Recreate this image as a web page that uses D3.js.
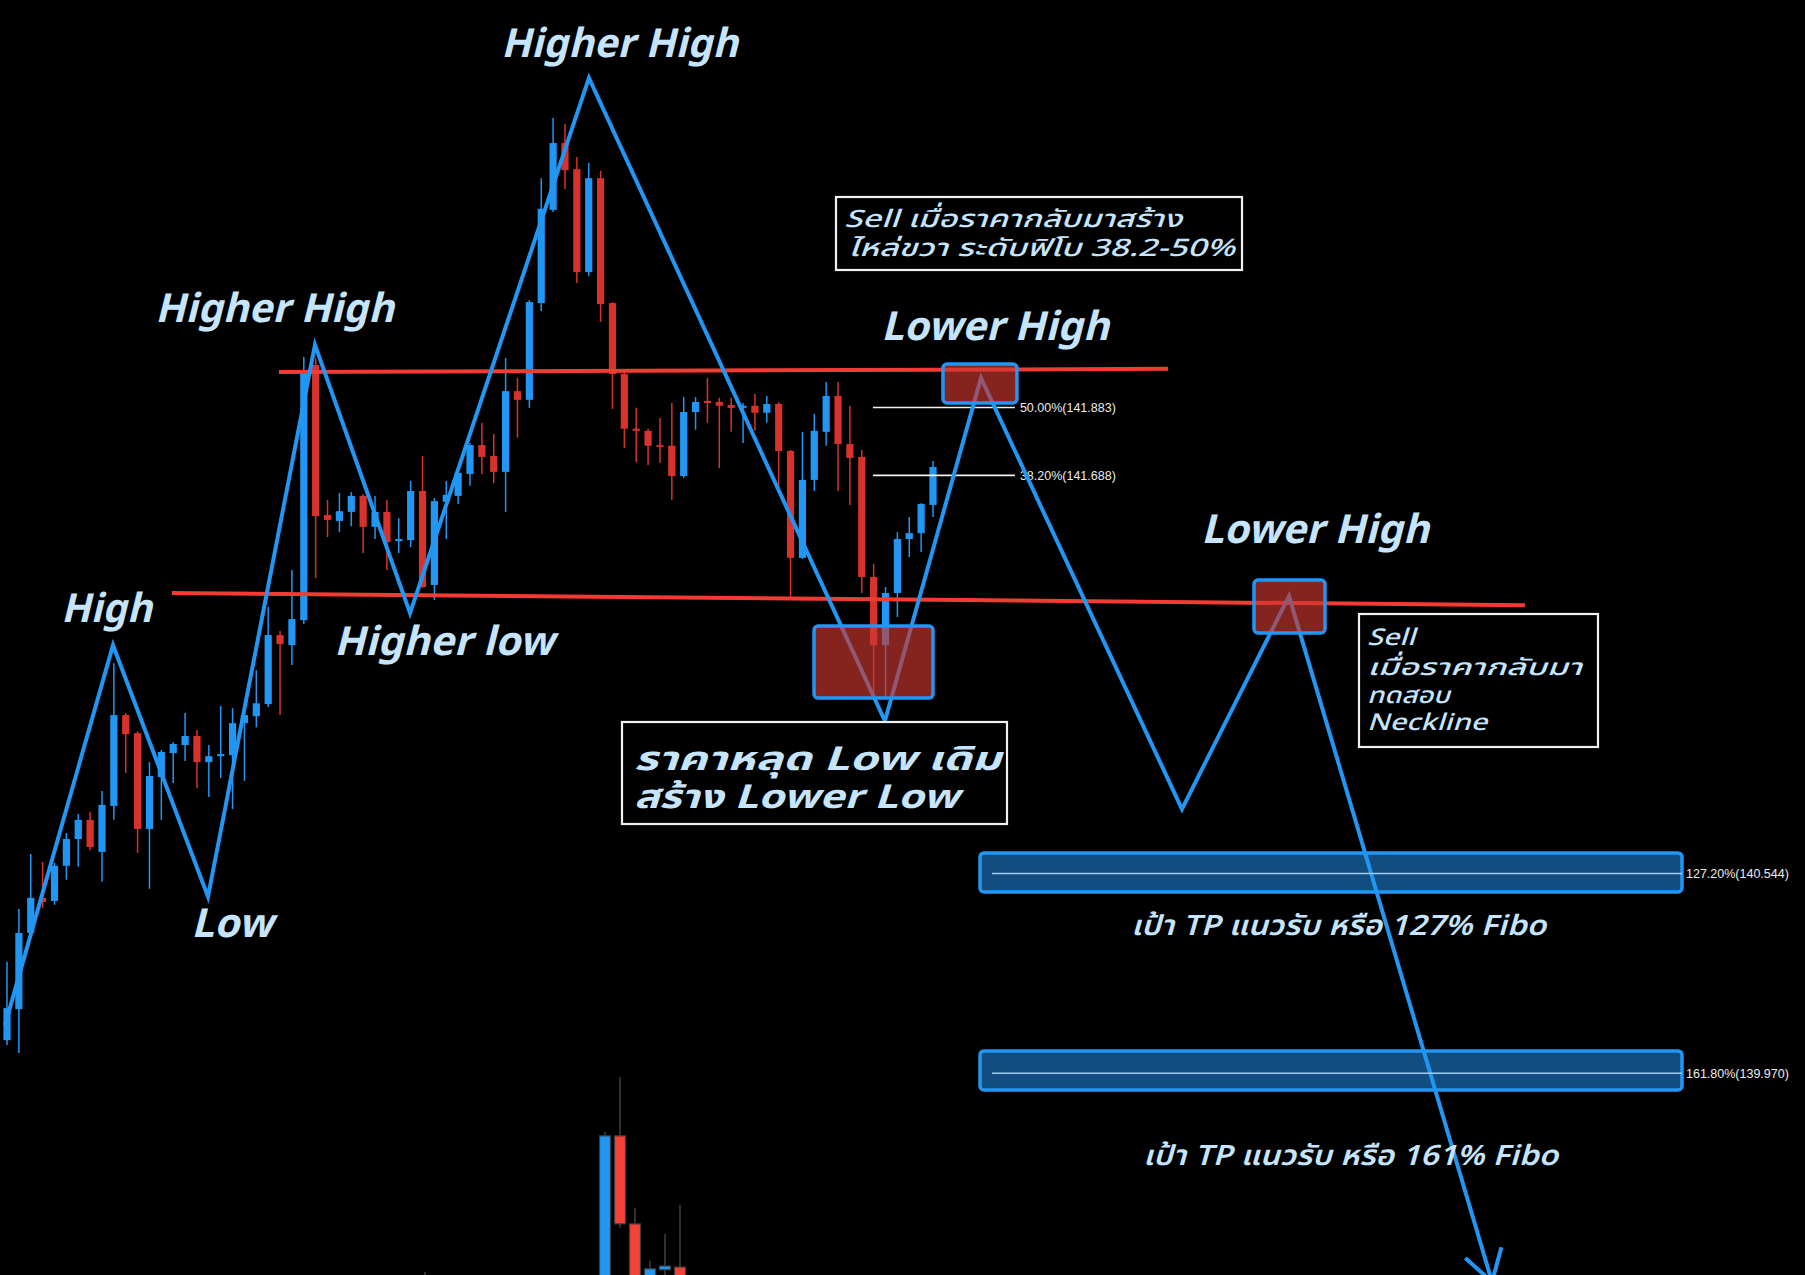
<!DOCTYPE html>
<html><head><meta charset="utf-8">
<script src="https://cdn.jsdelivr.net/npm/d3@7"></script>
<style>html,body{margin:0;padding:0;background:#000;overflow:hidden}</style>
</head><body><svg id="c" width="1805" height="1275"></svg>
<script>
// ---- DATA ----
// main candles [open, high, low, close]
const candles = [
[140.065,140.290,140.051,140.157],[140.154,140.442,140.028,140.373],[140.373,140.600,140.367,140.474],
[140.474,140.577,140.445,140.462],[140.465,140.574,140.454,140.566],[140.566,140.660,140.526,140.643],
[140.643,140.715,140.563,140.698],[140.698,140.721,140.611,140.620],[140.606,140.781,140.520,140.741],
[140.738,141.148,140.698,140.999],[140.999,141.005,140.833,140.944],[140.947,140.953,140.603,140.672],
[140.672,140.864,140.500,140.824],[140.821,140.899,140.698,140.893],[140.890,140.921,140.804,140.916],
[140.913,141.005,140.867,140.939],[140.939,140.956,140.789,140.864],[140.864,140.913,140.764,140.881],
[140.881,141.025,140.818,140.887],[140.884,141.019,140.729,140.976],[140.976,141.005,140.810,140.999],
[140.996,141.128,140.964,141.033],[141.031,141.310,141.022,141.229],[141.229,141.241,140.999,141.203],
[141.200,141.416,141.143,141.275],[141.272,142.028,141.261,141.985],[142.005,142.025,141.393,141.571],
[141.574,141.617,141.511,141.560],[141.557,141.637,141.525,141.585],[141.583,141.640,141.542,141.629],
[141.629,141.634,141.465,141.540],[141.540,141.629,141.505,141.583],[141.583,141.617,141.416,141.496],
[141.499,141.565,141.465,141.505],[141.502,141.672,141.482,141.643],[141.643,141.744,141.364,141.367],
[141.373,141.623,141.330,141.614],[141.612,141.672,141.505,141.632],[141.629,141.703,141.606,141.695],
[141.692,141.781,141.658,141.775],[141.775,141.839,141.692,141.741],[141.744,141.807,141.666,141.698],
[141.698,142.025,141.583,141.930],[141.930,141.968,141.796,141.905],[141.905,142.192,141.882,142.186],
[142.183,142.542,142.160,142.454],[142.451,142.715,142.445,142.643],[142.643,142.698,142.511,142.565],
[142.568,142.603,142.241,142.272],[142.272,142.586,142.261,142.542],[142.542,142.563,142.129,142.180],
[142.183,142.186,141.879,141.979],[141.979,141.985,141.767,141.822],[141.822,141.882,141.726,141.816],
[141.816,141.822,141.718,141.773],[141.775,141.853,141.724,141.770],[141.773,141.896,141.617,141.686],
[141.686,141.913,141.680,141.870],[141.870,141.913,141.819,141.899],[141.902,141.968,141.839,141.896],
[141.899,141.911,141.709,141.888],[141.890,141.911,141.813,141.882],[141.882,141.896,141.781,141.888],
[141.888,141.922,141.816,141.868],[141.868,141.916,141.839,141.893],[141.893,141.899,141.655,141.758],
[141.758,141.761,141.338,141.451],[141.451,141.813,141.448,141.675],[141.675,141.865,141.643,141.816],
[141.813,141.956,141.773,141.916],[141.916,141.956,141.643,141.778],[141.778,141.888,141.603,141.738],
[141.741,141.761,141.350,141.396],[141.396,141.434,141.042,141.200],[141.200,141.367,141.051,141.350],
[141.350,141.525,141.281,141.505],[141.505,141.568,141.453,141.522],[141.522,141.608,141.468,141.606],
[141.603,141.729,141.568,141.712]
];
// faded pasted candles at the bottom [slot, open, high, low, close]
const ghostCandles = [
[-12,139.300,139.399,139.290,139.310],
[0,139.319,139.801,139.290,139.790],[1,139.790,139.959,139.526,139.537],[2,139.537,139.583,139.290,139.319],
[3,139.319,139.431,139.290,139.408],[4,139.405,139.508,139.290,139.416],[5,139.413,139.592,139.290,139.319]
];
// swing zigzag (candle index, price)
const swingIndex = [-0.17, 8.93, 16.93, 25.94, 33.95, 49.02, 73.95, 82.04, 98.97, 107.99, 125.09];
const swingPrice = [140.108, 141.200, 140.477, 142.063, 141.292, 142.830, 140.982, 141.968, 140.729, 141.341, 139.370];
// horizontal red levels [[index, price],[index, price]]
const resistanceLine = [[22.91,141.985],[97.8,141.994]];
const necklineLine = [[13.9,141.350],[127.86,141.315]];
// fibonacci retracement levels
const fibPct = ["50.00%","38.20%"];
const fibPrice = [141.883,141.688];
const fibRange = [72.94, 84.9];
// fibonacci extension targets
const targetPct = ["127.20%","161.80%"];
const targetPrice = [140.544,139.970];
const targetTop = [140.603,140.034];
const targetBottom = [140.491,139.922];
const targetRange = [81.96,141.09];
const targetLineStart = 82.97;
// supply / sell zones [index0, index1, priceTop, priceBottom]
const sellZones = [[67.98,78.0,141.255,141.048],[78.84,85.07,142.008,141.896],[105.04,111.02,141.387,141.235]];
// labels
const swingLabels = ["Higher High","Higher High","High","Low","Higher low","Lower High","Lower High"];
const noteShoulder = ["Sell เมื่อราคากลับมาสร้าง","ไหล่ขวา ระดับฟิโบ 38.2-50%"];
const noteNeck = ["Sell","เมื่อราคากลับมา","ทดสอบ","Neckline"];
const noteBreak = ["ราคาหลุด Low เดิม","สร้าง Lower Low"];
const targetNotes = ["เป้า TP แนวรับ หรือ 127% Fibo","เป้า TP แนวรับ หรือ 161% Fibo"];

// ---- DRAW ----
const W=1805,H=1275;
const svg=d3.select("#c");
svg.append("rect").attr("width",W).attr("height",H).attr("fill","#000");
const x=d3.scaleLinear().domain([0,78]).range([7,933]);
const y=d3.scaleLinear().domain([141.883,139.970]).range([407.5,1073.2]);
const gx=d3.scaleLinear().domain([0,5]).range([605,680]);
const BLUE="#2196f3", RED="#d8322d", LRED="#f23b32";
const FONT="'Noto Sans Thai','Noto Sans','Tahoma','Loma','Garuda','DejaVu Sans',sans-serif";
const TXT="#c6e4fb";

// ghost candles
const gg=svg.append("g");
ghostCandles.forEach(d=>{
  const [s,o,h,l,c]=d, up=c>=o, cx=gx(s);
  gg.append("line").attr("x1",cx).attr("x2",cx).attr("y1",y(h)).attr("y2",y(l)).attr("stroke","#3c3c3c").attr("stroke-width",1.6);
  const t=y(Math.max(o,c)), b=y(Math.min(o,c));
  gg.append("rect").attr("x",cx-5.5).attr("width",11).attr("y",t).attr("height",Math.max(2,b-t))
    .attr("fill",up?BLUE:"#f44336").attr("stroke","#3c3c3c").attr("stroke-width",1.2);
});

// main candles
const cg=svg.append("g");
candles.forEach((d,i)=>{
  const [o,h,l,c]=d, up=c>=o, col=up?BLUE:RED, cx=x(i);
  cg.append("line").attr("x1",cx).attr("x2",cx).attr("y1",y(h)).attr("y2",y(l)).attr("stroke",col).attr("stroke-width",1.5);
  const t=y(Math.max(o,c)), b=y(Math.min(o,c));
  cg.append("rect").attr("x",cx-3.6).attr("width",7.2).attr("y",t).attr("height",Math.max(1.6,b-t)).attr("fill",col);
});

// red horizontal levels
[resistanceLine,necklineLine].forEach(L=>{
  svg.append("line").attr("x1",x(L[0][0])).attr("y1",y(L[0][1])).attr("x2",x(L[1][0])).attr("y2",y(L[1][1]))
    .attr("stroke",LRED).attr("stroke-width",4);
});

// fib retracement lines
fibPrice.forEach((p,k)=>{
  svg.append("line").attr("x1",x(fibRange[0])).attr("x2",x(fibRange[1])).attr("y1",y(p)).attr("y2",y(p))
    .attr("stroke","#f2f2f2").attr("stroke-width",1.6);
  svg.append("text").attr("x",x(fibRange[1])+5).attr("y",y(p)+4.5).attr("fill","#ececec")
    .attr("font-family","'Liberation Sans',Arial,sans-serif").attr("font-size",12.5)
    .text(fibPct[k]+"("+p.toFixed(3)+")");
});

// zigzag
const pts=swingIndex.map((v,i)=>[x(v),y(swingPrice[i])]);
svg.append("path").attr("d",d3.line()(pts)).attr("fill","none").attr("stroke",BLUE).attr("stroke-width",4)
  .attr("stroke-linejoin","miter").attr("stroke-miterlimit",10);
// arrow head
{
  const a=pts[pts.length-2], b=pts[pts.length-1];
  const ang=Math.atan2(a[1]-b[1],a[0]-b[0]), L=36, spread=0.55;
  [ang-spread,ang+spread].forEach(t=>{
    svg.append("line").attr("x1",b[0]).attr("y1",b[1]).attr("x2",b[0]+L*Math.cos(t)).attr("y2",b[1]+L*Math.sin(t))
      .attr("stroke",BLUE).attr("stroke-width",4);
  });
}

// target boxes
targetPrice.forEach((p,k)=>{
  svg.append("rect").attr("x",x(targetRange[0])).attr("width",x(targetRange[1])-x(targetRange[0]))
    .attr("y",y(targetTop[k])).attr("height",y(targetBottom[k])-y(targetTop[k]))
    .attr("fill","rgba(33,150,243,0.52)").attr("stroke",BLUE).attr("stroke-width",3.5).attr("rx",4);
  svg.append("line").attr("x1",x(targetLineStart)).attr("x2",x(targetRange[1])).attr("y1",y(p)).attr("y2",y(p))
    .attr("stroke","#9fcdf2").attr("stroke-width",1.6);
  svg.append("text").attr("x",x(targetRange[1])+4).attr("y",y(p)+4.5).attr("fill","#ececec")
    .attr("font-family","'Liberation Sans',Arial,sans-serif").attr("font-size",12.5)
    .text(targetPct[k]+"("+p.toFixed(3)+")");
});

// sell zones
sellZones.forEach(z=>{
  svg.append("rect").attr("x",x(z[0])).attr("width",x(z[1])-x(z[0])).attr("y",y(z[2])).attr("height",y(z[3])-y(z[2]))
    .attr("fill","rgba(205,55,48,0.65)").attr("stroke",BLUE).attr("stroke-width",3.5).attr("rx",4);
});

// swing labels
const labPos=[[501,57,237],[155,322,239],[61,622,91],[191,937,82],[334,655,220],[881,340,228],[1201,543,228]];
swingLabels.forEach((t,k)=>{
  const p=labPos[k];
  svg.append("text").attr("x",p[0]).attr("y",p[1]).attr("fill",TXT).attr("font-family",FONT)
    .attr("font-size",40).attr("font-weight","bold").attr("font-style","italic")
    .attr("textLength",p[2]).attr("lengthAdjust","spacingAndGlyphs").text(t);
});

// note boxes
function noteBox(bx,by,bw,bh){
  svg.append("rect").attr("x",bx).attr("y",by).attr("width",bw).attr("height",bh).attr("fill","#000")
    .attr("stroke","#f0f0f0").attr("stroke-width",2.2);
}
noteBox(836,197,406,73);
noteShoulder.forEach((t,k)=>{
  svg.append("text").attr("x",[844,848][k]).attr("y",[227,256][k]).attr("fill",TXT).attr("font-family",FONT)
    .attr("font-size",24).attr("font-style","italic").attr("font-weight",500)
    .attr("textLength",[338,387][k]).attr("lengthAdjust","spacingAndGlyphs").text(t);
});
noteBox(1359,614,239,133);
noteNeck.forEach((t,k)=>{
  svg.append("text").attr("x",1367).attr("y",[645,675,703,730][k]).attr("fill",TXT).attr("font-family",FONT)
    .attr("font-size",23).attr("font-style","italic").attr("font-weight",500)
    .attr("textLength",[48,215,83,120][k]).attr("lengthAdjust","spacingAndGlyphs").text(t);
});
noteBox(622,722,385,102);
noteBreak.forEach((t,k)=>{
  svg.append("text").attr("x",634).attr("y",[770,808][k]).attr("fill",TXT).attr("font-family",FONT)
    .attr("font-size",33).attr("font-style","italic").attr("font-weight","bold")
    .attr("textLength",[367,325][k]).attr("lengthAdjust","spacingAndGlyphs").text(t);
});
targetNotes.forEach((t,k)=>{
  svg.append("text").attr("x",[1131,1143][k]).attr("y",[935,1165][k]).attr("fill",TXT).attr("font-family",FONT)
    .attr("font-size",28).attr("font-style","italic").attr("font-weight",600)
    .attr("textLength",415).attr("lengthAdjust","spacingAndGlyphs").text(t);
});
</script></body></html>
